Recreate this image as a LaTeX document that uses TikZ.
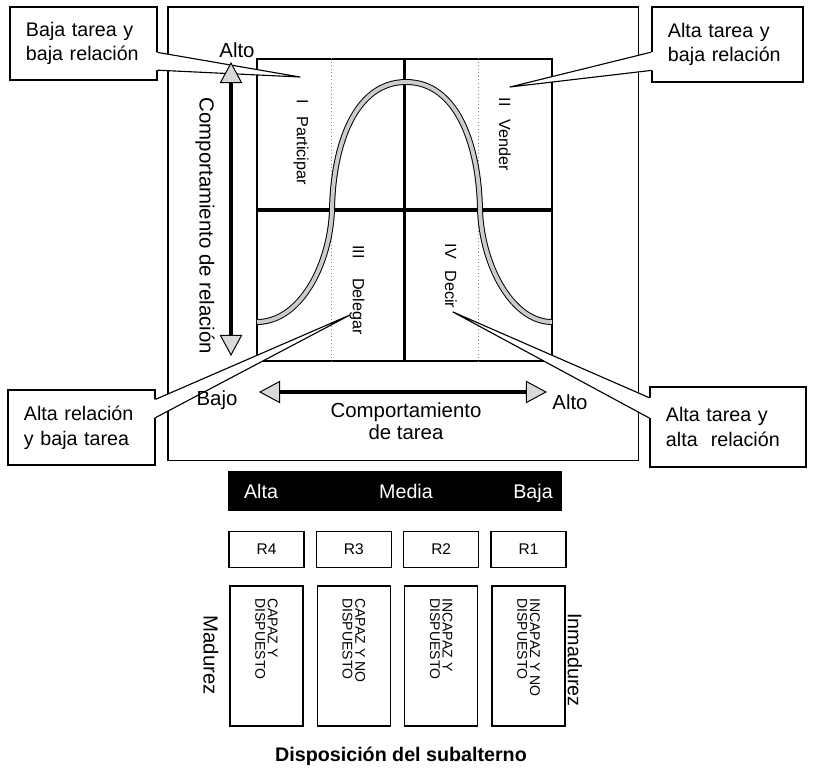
\documentclass[tikz,border=0pt]{standalone}
\usepackage{fontspec}
\setmainfont{Liberation Sans}
\usetikzlibrary{arrows.meta,positioning,calc}
\tikzset{
  panel/.style={draw,line width=0.8pt},
  guide/.style={draw=gray,line width=0.5pt,dotted},
  cross/.style={line width=2.2pt},
  bell/.style={draw=black,line width=0.7pt,double=gray!40,double distance=2.8pt},
  callout/.style={
    draw,line width=0.8pt,fill=white,inner xsep=0.4cm,
    align=left,font=\fontsize{14}{17.5}\selectfont
  },
  pointer/.style={line width=0.8pt,line join=round},
  quadlabel/.style={rotate=-90,inner sep=1pt,font=\fontsize{11.5}{13}\selectfont},
  axislabel/.style={inner sep=1pt,font=\fontsize{14.5}{15.5}\selectfont},
  axisarrow/.style={
    {Triangle[length=15pt,width=16pt,fill=gray!30,line width=0.7pt]}-{Triangle[length=15pt,width=16pt,fill=gray!30,line width=0.7pt]},
    line width=2.4pt
  },
  bar/.style={fill=black,minimum width=8.35cm,minimum height=1cm},
  bartext/.style={text=white,inner sep=1pt,anchor=base,font=\fontsize{14}{15}\selectfont},
  rbox/.style={draw,line width=0.8pt,minimum width=1.875cm,minimum height=0.92cm,font=\fontsize{11}{12}\selectfont},
  statebox/.style={draw,line width=0.9pt,minimum width=1.825cm,minimum height=3.5cm},
  statetext/.style={rotate=-90,anchor=west,align=left,inner sep=0pt,font=\fontsize{10}{9}\selectfont}
}
\begin{document}
\begin{tikzpicture}[x=0.025cm,y=-0.025cm]
\useasboundingbox (0,0) rectangle (816,770);

% frame and quadrants
\node[panel,minimum width=11.75cm,minimum height=11.325cm] (frame) at (403,233.5) {};
\node[panel,minimum width=7.375cm,minimum height=7.55cm] (grid) at (404.5,210) {};
\draw[guide] ($(grid.north west)+(75,0)$) -- ($(grid.south west)+(75,0)$);
\draw[guide] ($(grid.north east)+(-74,0)$) -- ($(grid.south east)+(-74,0)$);
\draw[cross] (grid.north) -- (grid.south);
\draw[cross] (grid.west) -- (grid.east);
\draw[bell] (257,322) .. controls (300,322) and (330,265) .. (332,210)
  .. controls (333,145) and (355,82) .. (406,82)
  .. controls (457,82) and (479,145) .. (480,210)
  .. controls (482,265) and (512,322) .. (552,322);

\node[quadlabel] (part) at (301,142) {I\hspace{9pt}Participar};
\node[quadlabel] (vend) at (505,134) {II\hspace{9pt}Vender};
\node[quadlabel] (deleg) at (357,290) {III\hspace{14pt}Delegar};
\node[quadlabel] (decir) at (451,276) {IV\hspace{8pt}Decir};

% callouts
\coordinate (tipI) at (300,77);
\coordinate (tipII) at (510,87);
\coordinate (tipIII) at (350,315);
\coordinate (tipIV) at (453,312);

\node[callout,minimum width=3.675cm,minimum height=1.825cm,text width=2.875cm] (lowboth) at (83.5,43.5) {Baja tarea y\\baja relación};
\coordinate (lowbothA) at ($(lowboth.north east)!0.62!(lowboth.south east)$);
\coordinate (lowbothB) at ($(lowboth.north east)!0.86!(lowboth.south east)$);
\fill[white] ([xshift=-1pt]lowbothA) -- (lowbothA) -- (tipI) -- (lowbothB) -- ([xshift=-1pt]lowbothB) -- cycle;
\draw[pointer] (lowbothA) -- (tipI) -- (lowbothB);

\node[callout,minimum width=3.775cm,minimum height=1.875cm,text width=2.975cm] (hightask) at (727.5,44.5) {Alta tarea y\\baja relación};
\coordinate (hightaskA) at ($(hightask.north west)!0.6!(hightask.south west)$);
\coordinate (hightaskB) at ($(hightask.north west)!0.84!(hightask.south west)$);
\fill[white] ([xshift=1pt]hightaskA) -- (hightaskA) -- (tipII) -- (hightaskB) -- ([xshift=1pt]hightaskB) -- cycle;
\draw[pointer] (hightaskA) -- (tipII) -- (hightaskB);

\node[callout,minimum width=3.675cm,minimum height=1.875cm,text width=2.875cm] (highrel) at (81.5,427.5) {Alta relación\\y baja tarea};
\coordinate (highrelA) at ($(highrel.north east)!0.13!(highrel.south east)$);
\coordinate (highrelB) at ($(highrel.north east)!0.37!(highrel.south east)$);
\fill[white] ([xshift=-1pt]highrelA) -- (highrelA) -- (tipIII) -- (highrelB) -- ([xshift=-1pt]highrelB) -- cycle;
\draw[pointer] (highrelA) -- (tipIII) -- (highrelB);

\node[callout,minimum width=3.9cm,minimum height=2cm,text width=3.1cm] (highboth) at (728,427) {Alta tarea y\\alta\ \ relación};
\coordinate (highbothA) at ($(highboth.north west)!0.14!(highboth.south west)$);
\coordinate (highbothB) at ($(highboth.north west)!0.39!(highboth.south west)$);
\fill[white] ([xshift=1pt]highbothA) -- (highbothA) -- (tipIV) -- (highbothB) -- ([xshift=1pt]highbothB) -- cycle;
\draw[pointer] (highbothA) -- (tipIV) -- (highbothB);

% axes
\coordinate (relTop) at (231,62);
\coordinate (relBot) at (231,356);
\draw[axisarrow] (relBot) -- (relTop);
\node[axislabel] (relhigh) at (237,50) {Alto};
\node[axislabel,rotate=-90] (relation) at (205,226) {Comportamiento de relación};

\coordinate (taskLeft) at (259,392);
\coordinate (taskRight) at (547,392);
\draw[axisarrow] (taskLeft) -- (taskRight);
\node[axislabel] (tasklow) at (217,400) {Bajo};
\node[axislabel] (taskhigh) at (570,402) {Alto};
\node[axislabel,align=center] (task) at (406,421) {Comportamiento\\de tarea};

% readiness
\node[bar] (bar) at (395,491) {};
\node[bartext] (alta) at (261,498) {Alta};
\node[bartext] (media) at (406,498) {Media};
\node[bartext] (baja) at (533,498) {Baja};

\node[rbox] (r4) at (266.5,549.5) {R4};
\node[rbox,right=0.28cm of r4] (r3) {R3};
\node[rbox,right=0.28cm of r3] (r2) {R2};
\node[rbox,right=0.28cm of r2] (r1) {R1};

\node[statebox,below=0.42cm of r4] (s4) {};
\node[statebox,below=0.42cm of r3] (s3) {};
\node[statebox,below=0.42cm of r2] (s2) {};
\node[statebox,below=0.42cm of r1] (s1) {};
\node[statetext] (t4) at ([yshift=-0.32cm]s4.north) {CAPAZ Y\\DISPUESTO};
\node[statetext] (t3) at ([yshift=-0.32cm]s3.north) {CAPAZ Y NO\\DISPUESTO};
\node[statetext] (t2) at ([yshift=-0.32cm]s2.north) {INCAPAZ Y\\DISPUESTO};
\node[statetext] (t1) at ([yshift=-0.32cm]s1.north) {INCAPAZ Y NO\\DISPUESTO};

\node[axislabel,rotate=-90] (madurez) at (211,655) {Madurez};
\node[axislabel,rotate=-90,font=\fontsize{14}{15}\selectfont] (inmadurez) at (575,660) {Inmadurez};
\node[inner sep=1pt,font=\fontsize{14}{15}\selectfont\bfseries] (dispo) at (401,756) {Disposición del subalterno};
\end{tikzpicture}
\end{document}
